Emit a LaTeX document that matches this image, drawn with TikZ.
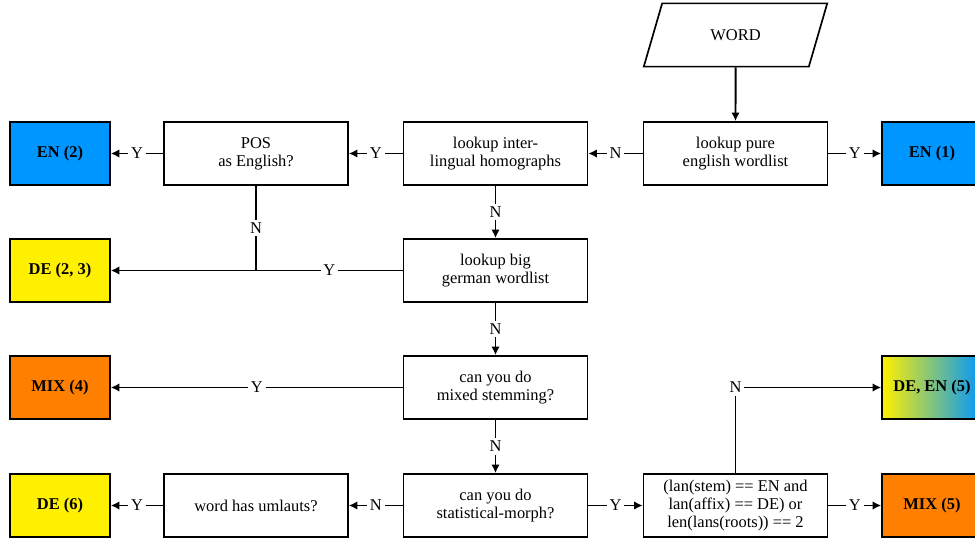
\documentclass[tikz,border=0pt]{standalone}
\usepackage{fontspec}
\setmainfont{Liberation Serif}
\usepackage{tikz}
\usetikzlibrary{shapes.geometric}
\usetikzlibrary{arrows.meta}
\usepackage{xcolor}
\definecolor{enblue}{RGB}{0,150,255}
\definecolor{deyellow}{RGB}{255,240,0}
\definecolor{mixorange}{RGB}{255,128,0}
\newcommand{\flowfont}{\fontsize{11.7}{12.9}\selectfont}
\tikzstyle{stepbox}=[draw, line width=1.2pt, fill=white, minimum width=4.6cm, minimum height=1.58cm, align=center, font=\flowfont]
\tikzstyle{result}=[draw, line width=1.2pt, minimum width=2.5cm, minimum height=1.58cm, font=\flowfont\bfseries]
\tikzstyle{yn}=[fill=white, inner sep=2pt, font=\flowfont]
\tikzstyle{link}=[line width=1.4pt]
\tikzstyle{flow}=[link, -{Latex[length=6pt,width=6pt]}]

\begin{document}
\begin{tikzpicture}
\useasboundingbox (0,0) rectangle (24.375,13.5);
\node[stepbox, trapezium, trapezium left angle=70, trapezium right angle=110, trapezium stretches] (word) at (18.3875,12.625) {WORD};
\node[stepbox] (pure) at (18.3875,9.6625) {lookup pure\\english wordlist};
\node[result, fill=enblue] (en1) at (23.3,9.6625) {EN (1)};
\node[stepbox] (inter) at (12.3875,9.6625) {lookup inter-\\lingual homographs};
\node[stepbox] (pos) at (6.4,9.6625) {POS\\as English?};
\node[result, fill=enblue] (en2) at (1.5,9.6625) {EN (2)};
\node[stepbox] (big) at (12.3875,6.7375) {lookup big\\german wordlist};
\node[result, fill=deyellow] (de23) at (1.5,6.7375) {DE (2, 3)};
\node[stepbox] (mixed) at (12.3875,3.8125) {can you do\\mixed stemming?};
\node[result, fill=mixorange] (mix4) at (1.5,3.8125) {MIX (4)};
\node[result, left color=deyellow, right color=enblue] (deen5) at (23.3,3.8125) {DE, EN (5)};
\node[stepbox] (stat) at (12.3875,0.8625) {can you do\\statistical-morph?};
\node[stepbox] (umlaut) at (6.4,0.8625) {word has umlauts?};
\node[result, fill=deyellow] (de6) at (1.5,0.8625) {DE (6)};
\node[stepbox] (lans) at (18.3875,0.8625) {(lan(stem) == EN and\\lan(affix) == DE) or\\len(lans(roots)) == 2};
\node[result, fill=mixorange] (mix5) at (23.3,0.8625) {MIX (5)};
\coordinate (join) at (pos |- big);

\draw[flow] (word) -- (pure);
\draw[flow] (pure) -- node[yn] {Y} (en1);
\draw[flow] (pure) -- node[yn] {N} (inter);
\draw[flow] (inter) -- node[yn] {Y} (pos);
\draw[flow] (pos) -- node[yn] {Y} (en2);
\draw[flow] (inter) -- node[yn] {N} (big);
\draw[link] (pos) -- node[yn] {N} (join);
\draw[link] (big) -- node[yn] {Y} (join);
\draw[flow] (join) -- (de23);
\draw[flow] (big) -- node[yn] {N} (mixed);
\draw[flow] (mixed) -- node[yn] {Y} (mix4);
\draw[flow] (mixed) -- node[yn] {N} (stat);
\draw[flow] (stat) -- node[yn] {N} (umlaut);
\draw[flow] (umlaut) -- node[yn] {Y} (de6);
\draw[flow] (stat) -- node[yn] {Y} (lans);
\draw[flow] (lans) -- node[yn] {Y} (mix5);
\draw[flow] (lans) -- (lans |- deen5) node[yn] {N} -- (deen5);
\end{tikzpicture}
\end{document}
